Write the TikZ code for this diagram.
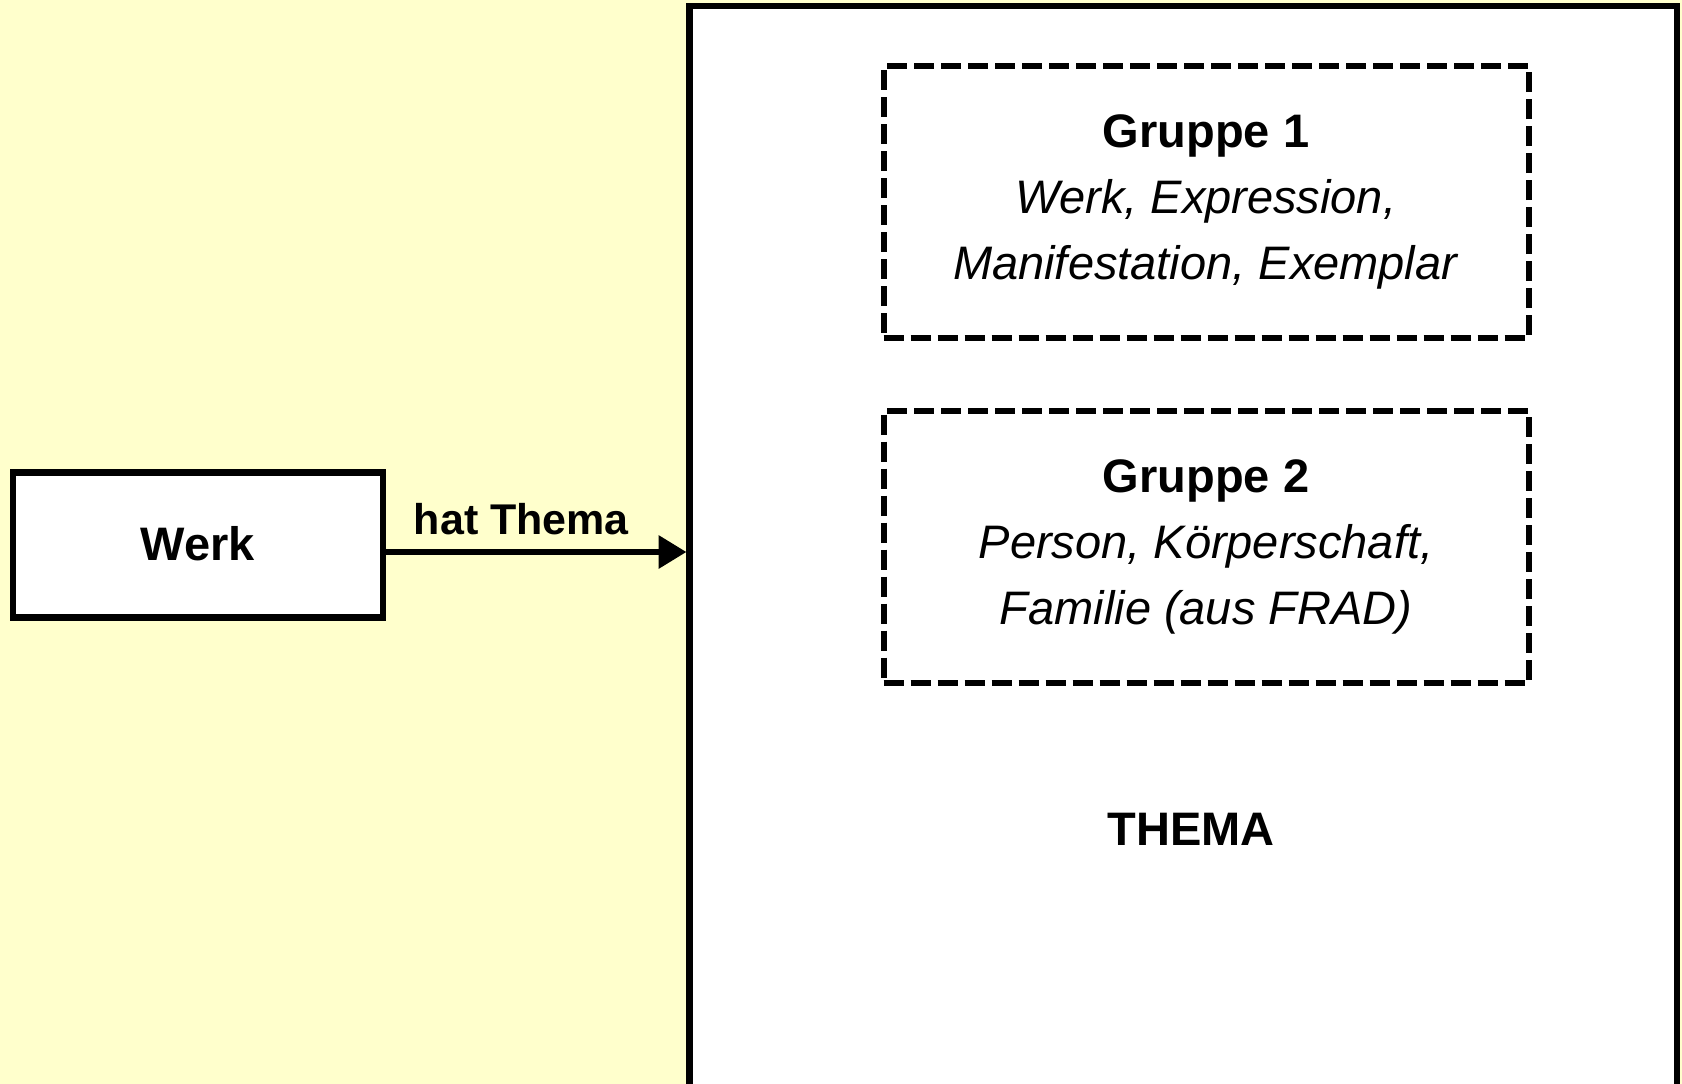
\documentclass[tikz,border=0pt]{standalone}
\usepackage{fontspec}
\setmainfont{Liberation Sans}
\usetikzlibrary{arrows.meta}
\definecolor{bgyellow}{RGB}{255,255,204}
\tikzset{
  entity/.style={draw, line width=6.5pt, fill=white, inner sep=0pt, font=\fontsize{47}{66}\selectfont\bfseries},
  groupbox/.style={draw, line width=6pt, dash pattern=on 20pt off 7pt, inner sep=0pt,
     minimum width=645pt, minimum height=272pt, align=center, font=\fontsize{47}{66}\selectfont},
  relation/.style={line width=6.5pt, -{Triangle[length=28pt,width=32pt]}},
  rellabel/.style={font=\fontsize{43}{50}\selectfont\bfseries, inner sep=0pt},
  bigbox/.style={draw, line width=6.5pt, fill=white}
}
\begin{document}
\begin{tikzpicture}[x=1pt,y=-1pt]
\useasboundingbox (0,0) rectangle (1682,1084);
\clip (0,0) rectangle (1682,1084);
\fill[bgyellow] (0,0) rectangle (1682,1084);
% large THEMA box
\draw[bigbox] (689.5,6) rectangle (1677,1110);
\coordinate (themaW) at (686.5,552);
% Werk
\node[entity, minimum width=370pt, minimum height=145pt] (werk) at (198,545) {\raisebox{4pt}{Werk}};
% groups
\node[groupbox] (g1) at (1206,202) {\textbf{Gruppe 1}\\\textit{Werk, Expression,}\\\textit{Manifestation, Exemplar}};
\node[groupbox] (g2) at (1206,546.5) {\textbf{Gruppe 2}\\\textit{Person, Körperschaft,}\\\textit{Familie (aus FRAD)}};
\node[font=\fontsize{47}{66}\selectfont\bfseries] (thema) at (1191,829) {THEMA};
% relation
\draw[relation] (werk.east |- themaW) -- (themaW)
  node[rellabel, pos=0.45, above=14pt] (rel) {hat Thema};
\end{tikzpicture}
\end{document}
